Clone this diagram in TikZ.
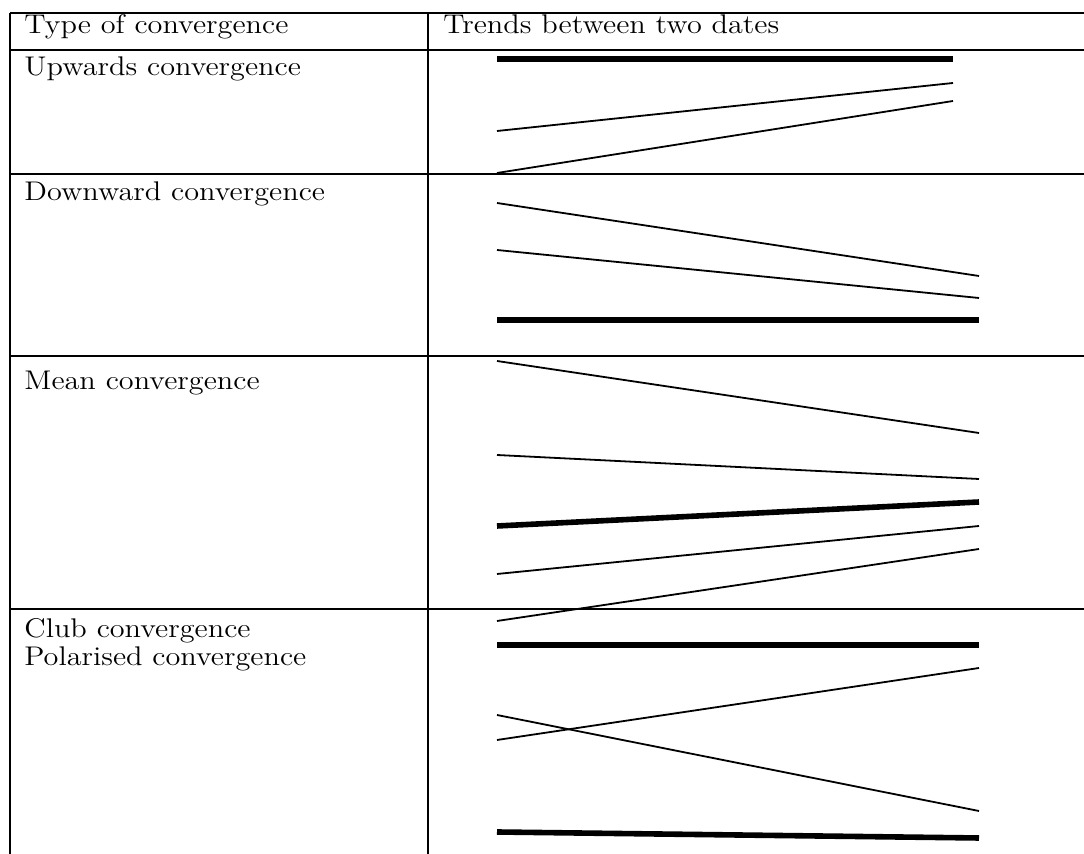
\documentclass[tikz,border=0pt]{standalone}
\usepackage{graphicx}
\newcommand{\celltext}[1]{\scalebox{1.12}[1]{#1}}
\begin{document}
\begin{tikzpicture}[x=0.5pt,y=-0.5pt,
  rule/.style={line width=1.2pt},
  thin trend/.style={line width=0.9pt},
  thick trend/.style={line width=2.8pt},
  cell/.style={anchor=base west,inner sep=0pt,font=\fontsize{13.5pt}{15pt}\selectfont}]
\useasboundingbox (0,0) rectangle (1084,854);
% table rules
\draw[rule] (10,13) -- (1084,13);
\draw[rule] (10,50) -- (1084,50);
\draw[rule] (10,174) -- (1084,174);
\draw[rule] (10,356) -- (1084,356);
\draw[rule] (10,609) -- (1084,609);
\draw[rule] (10,13) -- (10,854);
\draw[rule] (428,13) -- (428,854);
% texts
\node[cell] (h1) at (24,34) {\celltext{Type of convergence}};
\node[cell] (h2) at (443,34) {\celltext{Trends between two dates}};
\node[cell] (r1) at (24,76) {\celltext{Upwards convergence}};
\node[cell] (r2) at (24,201) {\celltext{Downward convergence}};
\node[cell] (r3) at (24,390) {\celltext{Mean convergence}};
\node[cell] (r4a) at (24,638) {\celltext{Club convergence}};
\node[cell] (r4b) at (24,666) {\celltext{Polarised convergence}};
% row 1
\draw[thick trend] (497,59) -- (953,59);
\draw[thin trend] (497,131) -- (953,83);
\draw[thin trend] (497,173) -- (953,101);
% row 2
\draw[thin trend] (497,203) -- (979,276);
\draw[thin trend] (497,250) -- (979,298);
\draw[thick trend] (497,320) -- (979,320);
% row 3
\draw[thin trend] (497,361) -- (979,433);
\draw[thin trend] (497,455) -- (979,479);
\draw[thick trend] (497,526) -- (979,502);
\draw[thin trend] (497,574) -- (979,526);
\draw[thin trend] (497,621) -- (979,549);
% row 4
\draw[thick trend] (497,645) -- (979,645);
\draw[thin trend] (497,740) -- (979,668);
\draw[thin trend] (497,715) -- (979,811);
\draw[thick trend] (497,832) -- (979,838);
\end{tikzpicture}
\end{document}
